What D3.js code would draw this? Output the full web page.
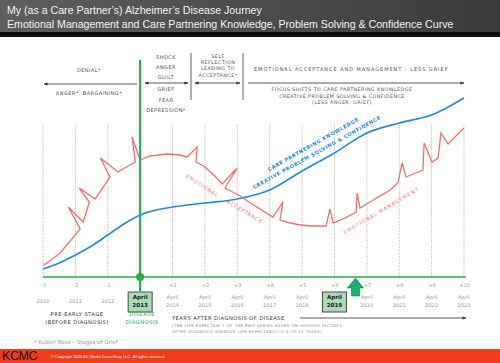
<!DOCTYPE html>
<html>
<head>
<meta charset="utf-8">
<script src="https://cdn.jsdelivr.net/npm/d3@7"></script>
<style>
  body { margin: 0; background: #fff; }
  svg { display: block; }
  .cap { font-family: "DejaVu Sans", sans-serif; fill: #555; }
</style>
</head>
<body>
<div id="chart-container"></div>
<script>
// years relative to diagnosis (April 2013)
const years = [-3, -2, -1, 0, 1, 2, 3, 4, 5, 6, 7, 8, 9, 10];
const tickLabels = ["-3", "-2", "-1", "", "+1", "+2", "+3", "+4", "+5", "+6", "+7", "+8", "+9", "+10"];
const dateLabels = ["2010", "2011", "2012", "April 2013", "April 2014", "April 2015", "April 2016",
  "April 2017", "April 2018", "April 2019", "April 2020", "April 2021", "April 2022", "April 2023"];
const boxedYears = [0, 6];
const nowYear = 6.65;

// care partnering knowledge curve (relative level 0-100)
const blueYears = [-3, -2.5, -2, -1.5, -1, -0.5, 0, 0.5, 1, 2, 3, 4, 5, 6, 7, 8, 9, 10];
const blueValues = [4, 7, 11, 15.5, 21, 26.5, 31, 33.5, 35, 37, 39, 43.5, 53, 62, 72, 77, 81, 89.5];

// emotional acceptance / management curve, spikes included
const redYears = [-3, -2.47, -1.85, -2.22, -1.76, -1.57, -1.88, -1.39, -0.93, -1.23, -0.68, -0.37, -0.15, -0.25, 0,
  0.31, 0.83, 1.23, 1.45, 1.76, 1.73, 2.0, 2.31, 2.53, 3.0, 2.62, 3.09, 3.55, 4.1, 4.41, 4.32, 4.63, 4.94,
  5.31, 5.74, 5.86, 5.96, 6.33, 6.67, 6.7, 6.79, 7.25, 7.72, 7.96, 8.09, 8.21, 8.52, 8.73, 8.77, 9.01,
  9.2, 9.29, 9.51, 9.75, 10];
const redValues = [5.5, 12, 24, 35, 27.5, 37.5, 44.5, 39, 50, 59.5, 52.5, 55.5, 57.5, 70, 58.5,
  60.5, 61.5, 61, 60, 65, 57.5, 55, 50.5, 46.5, 54.5, 44.5, 40.5, 35.5, 30, 37.5, 28.5, 27, 26,
  25.5, 25.5, 34, 27, 29.5, 32.5, 42, 34.5, 39, 43.5, 47, 57, 50, 52, 53.5, 67, 57.5,
  59.5, 72, 66.5, 70.5, 74.5];

const width = 500, height = 363;
const green = "#22b04b", blue = "#2489e0", red = "#ef6f6c";

const svg = d3.select("#chart-container").append("svg")
  .attr("width", width).attr("height", height);

const x = d3.scaleLinear().domain([-3, 10]).range([43, 464]);
const y = d3.scaleLinear().domain([0, 100]).range([277, 77]);

// header
const grad = svg.append("defs").append("linearGradient").attr("id", "hdr");
grad.append("stop").attr("offset", "0%").attr("stop-color", "#5e5e5e");
grad.append("stop").attr("offset", "100%").attr("stop-color", "#3b3b3b");
svg.append("rect").attr("x", 0).attr("y", 0).attr("width", width).attr("height", 33).attr("fill", "url(#hdr)");
svg.append("rect").attr("x", 0).attr("y", 32).attr("width", width).attr("height", 5).attr("fill", "#0d0d0d");
svg.append("text").attr("x", 7).attr("y", 14)
  .style("font-family", "Liberation Sans, Arial, sans-serif").style("font-size", "10.6px").style("fill", "#f2f2f2")
  .text("My (as a Care Partner\u2019s) Alzheimer\u2019s Disease Journey");
svg.append("text").attr("x", 7).attr("y", 27.5)
  .style("font-family", "Liberation Sans, Arial, sans-serif").style("font-size", "10.6px").style("fill", "#f2f2f2")
  .text("Emotional Management and Care Partnering Knowledge, Problem Solving & Confidence Curve");

// arrow markers
const defs = svg.select("defs");
defs.append("marker").attr("id", "ah").attr("viewBox", "0 0 10 10").attr("refX", 9).attr("refY", 5)
  .attr("markerWidth", 5).attr("markerHeight", 5).attr("orient", "auto-start-reverse")
  .append("path").attr("d", "M0,1L10,5L0,9Z").attr("fill", "#333");

// grid lines
svg.append("g").selectAll("line").data(years.filter(d => d !== 0)).join("line")
  .attr("x1", d => x(d)).attr("x2", d => x(d))
  .attr("y1", 125).attr("y2", y(0))
  .attr("stroke", "#9a9a9a").attr("stroke-width", 0.8).attr("stroke-dasharray", "1,1.3");

// top stage annotations
function cap(xp, yp, t, size, anchor) {
  return svg.append("text").attr("class", "cap").attr("x", xp).attr("y", yp)
    .attr("text-anchor", anchor || "middle")
    .style("font-size", (size || 5) + "px").style("letter-spacing", "0.45px").text(t);
}
cap(89, 72, "DENIAL*");
cap(89, 95, "ANGER*, BARGAINING*");
svg.append("line").attr("x1", 137).attr("x2", 44).attr("y1", 84).attr("y2", 84)
  .attr("stroke", "#333").attr("stroke-width", 0.8).attr("marker-end", "url(#ah)");

["SHOCK", "ANGER", "GUILT"].forEach((t, i) => cap(166, 59 + i * 10, t));
["GRIEF", "FEAR", "DEPRESSION*"].forEach((t, i) => cap(166, 91 + i * 10.5, t));
svg.append("line").attr("x1", 145).attr("x2", 188).attr("y1", 83).attr("y2", 83)
  .attr("stroke", "#333").attr("stroke-width", 0.8)
  .attr("marker-start", "url(#ah)").attr("marker-end", "url(#ah)");

["SELF", "REFLECTION", "LEADING TO", "ACCEPTANCE*"].forEach((t, i) => cap(218, 58 + i * 6.2, t, 4.8));
svg.append("line").attr("x1", 195).attr("x2", 240).attr("y1", 83).attr("y2", 83)
  .attr("stroke", "#333").attr("stroke-width", 0.8)
  .attr("marker-start", "url(#ah)").attr("marker-end", "url(#ah)");

[191, 243].forEach(xp => svg.append("line").attr("x1", xp).attr("x2", xp).attr("y1", 53).attr("y2", 100)
  .attr("stroke", "#666").attr("stroke-width", 1));

cap(351, 71, "EMOTIONAL ACCEPTANCE AND MANAGEMENT - LESS GRIEF").attr("textLength", 194);
svg.append("line").attr("x1", 248).attr("x2", 464).attr("y1", 83).attr("y2", 83)
  .attr("stroke", "#333").attr("stroke-width", 0.8).attr("marker-end", "url(#ah)");
cap(342, 91, "FOCUS SHIFTS TO CARE PARTNERING KNOWLEDGE", 4.8);
cap(342, 97.5, "CREATIVE PROBLEM SOLVING & CONFIDENCE", 4.8);
cap(342, 104, "(LESS ANGER, GRIEF)", 4.8);

// curves
const lineGen = d3.line().x(d => x(d[0])).y(d => y(d[1]));
svg.append("path")
  .datum(blueYears.map((d, i) => [d, blueValues[i]]))
  .attr("d", lineGen.curve(d3.curveMonotoneX))
  .attr("fill", "none").attr("stroke", blue).attr("stroke-width", 1.6);

svg.append("path")
  .datum(redYears.map((d, i) => [d, redValues[i]]))
  .attr("d", d3.line().x(d => x(d[0])).y(d => y(d[1])).curve(d3.curveLinear))
  .attr("fill", "none").attr("stroke", red).attr("stroke-width", 1.3).attr("stroke-linejoin", "miter");

// curve labels
function rotLabel(cx, cy, ang, t, col, len, bold) {
  svg.append("text").attr("transform", `translate(${cx},${cy}) rotate(${ang})`)
    .attr("text-anchor", "middle").attr("dy", "0.35em")
    .attr("textLength", len).attr("lengthAdjust", "spacing")
    .style("font-family", "DejaVu Sans, sans-serif").style("font-size", "5px")
    .style("font-weight", bold ? "bold" : "normal").style("fill", col).text(t);
}
rotLabel(202, 185.5, 33, "EMOTIONAL", red, 37);
rotLabel(244.5, 211.5, 31, "ACCEPTANCE", red, 40);
rotLabel(381, 211, -30.7, "EMOTIONAL MANAGEMENT", red, 86);
rotLabel(313, 144.5, -29.5, "CARE PARTNERING KNOWLEDGE", blue, 103, true);
rotLabel(316.5, 152.5, -29, "CREATIVE PROBLEM SOLVING & CONFIDENCE", blue, 145, true);

// x axis
const axis = svg.append("g").attr("transform", `translate(0,${y(0)})`)
  .call(d3.axisBottom(x).tickValues(years).tickSize(0).tickPadding(6)
    .tickFormat((d, i) => tickLabels[i]));
axis.select(".domain").attr("stroke", green).attr("stroke-width", 1.6)
  .attr("d", `M${x(-3)},0H${x(10) + 2}`);
axis.selectAll("text").style("font-family", "DejaVu Sans, sans-serif").style("font-size", "5px").style("fill", "#999");

// diagnosis line and marker
svg.append("line").attr("x1", x(0)).attr("x2", x(0)).attr("y1", 60).attr("y2", 291)
  .attr("stroke", green).attr("stroke-width", 2.2);
svg.append("circle").attr("cx", x(0)).attr("cy", y(0)).attr("r", 4).attr("fill", green);

// date labels
const dates = svg.append("g");
years.forEach((d, i) => {
  const parts = dateLabels[i].split(" ");
  const boxed = boxedYears.includes(d);
  if (boxed) {
    dates.append("rect").attr("x", x(d) - 12).attr("y", 292).attr("width", 24).attr("height", 20)
      .attr("fill", "#a9d9b6").attr("stroke", "#4a4a4a").attr("stroke-width", 1);
  }
  const t = dates.append("text").attr("text-anchor", "middle")
    .style("font-family", "DejaVu Sans, sans-serif")
    .style("font-size", boxed ? "5.6px" : "5.2px")
    .style("font-weight", boxed ? "bold" : "normal")
    .style("fill", boxed ? "#222" : "#9a9a9a");
  if (parts.length === 1) {
    t.append("tspan").attr("x", x(d)).attr("y", 303).text(parts[0]);
  } else {
    t.append("tspan").attr("x", x(d)).attr("y", 299).text(parts[0]);
    t.append("tspan").attr("x", x(d)).attr("y", 306.5).text(parts[1]);
  }
});

// "now" arrow
const ax = x(nowYear);
svg.append("path")
  .attr("d", `M${ax},278L${ax + 8},288L${ax + 4},288L${ax + 4},296L${ax - 4},296L${ax - 4},288L${ax - 8},288Z`)
  .attr("fill", "#17b06e").attr("stroke", "#0c7a48").attr("stroke-width", 0.6);

// bottom labels
cap(77, 316, "PRE-EARLY STAGE", 5.2).style("fill", "#333");
cap(77, 324, "(BEFORE DIAGNOSIS)", 5.2).style("fill", "#333");
cap(142, 316, "DISEASE", 5.2).style("fill", green);
cap(142, 324, "DIAGNOSIS", 5.2).style("fill", green);
cap(172, 320, "YEARS AFTER DIAGNOSIS OF DISEASE", 5.2, "start").style("fill", "#333");
svg.append("line").attr("x1", 300).attr("x2", 466).attr("y1", 318).attr("y2", 318)
  .attr("stroke", "#333").attr("stroke-width", 0.8).attr("marker-end", "url(#ah)");
cap(172, 327, "(THE LIFE EXPECTANCY OF THE PWD VARIES BASED ON VARIOUS FACTORS.", 3.8, "start").style("fill", "#888");
cap(172, 333, "AFTER DIAGNOSIS AVERAGE LIFE EXPECTANCY IS 8 TO 10 YEARS)", 3.8, "start").style("fill", "#888");

svg.append("text").attr("x", 34).attr("y", 344)
  .style("font-family", "DejaVu Sans, sans-serif").style("font-size", "5.5px").style("fill", "#999")
  .text("* Kubler Ross \u2013 Stages of Grief");

// footer
svg.append("rect").attr("x", 0).attr("y", 349).attr("width", width).attr("height", 14).attr("fill", "#f23c1c");
svg.append("text").attr("x", 2).attr("y", 360)
  .style("font-family", "Liberation Sans, Arial, sans-serif").style("font-size", "12.5px")
  .style("letter-spacing", "-0.4px").style("fill", "#111").text("KCMC");
svg.append("text").attr("x", 51).attr("y", 358)
  .style("font-family", "Liberation Sans, Arial, sans-serif").style("font-size", "4px").style("fill", "#fff")
  .text("\u00a9 Copyright 2020 KC Media Consulting, LLC. All rights reserved.");
</script>
</body>
</html>
